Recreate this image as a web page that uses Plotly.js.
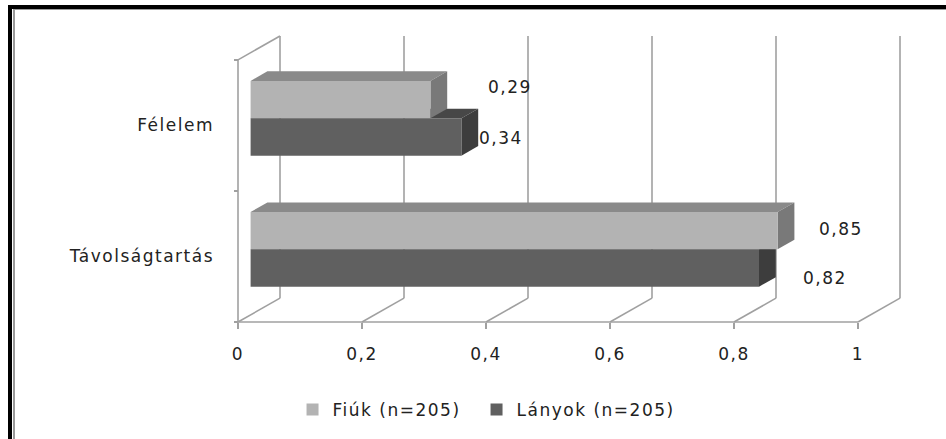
<!DOCTYPE html>
<html>
<head>
<meta charset="utf-8">
<script src="https://cdn.plot.ly/plotly-3.0.1.min.js"></script>
<style>
  html, body { margin: 0; padding: 0; background: #fff; width: 946px; height: 439px; overflow: hidden; }
  #wrap { width: 946px; height: 439px; position: relative; overflow: hidden; }
  #chart { width: 946px; height: 439px; position: absolute; left: 0; top: 0; }
  text { letter-spacing: 1.5px; }
  .frame { position: absolute; pointer-events: none; z-index: 10; }
</style>
</head>
<body>
<div id="wrap">
<div id="chart"></div>
<div class="frame" style="left:930px;top:10px;width:16px;height:429px;background:#fff;z-index:20;"></div>
<div class="frame" style="left:8px;top:5px;width:938px;height:4px;background:#000;"></div>
<div class="frame" style="left:8px;top:5px;width:4px;height:434px;background:#000;"></div>
<div class="frame" style="left:13px;top:9px;width:933px;height:1px;background:#9a9a9a;"></div>
<div class="frame" style="left:13px;top:9px;width:2px;height:430px;background:#9a9a9a;"></div>
</div>
<script>
// ---- data ----
var categories = ['Félelem', 'Távolságtartás'];
var seriesNames = ['Fiúk (n=205)', 'Lányok (n=205)'];
var fiukValues = [0.29, 0.85];
var lanyokValues = [0.34, 0.82];
var tickVals = [0, 0.2, 0.4, 0.6, 0.8, 1];
var tickLabels = ['0', '0,2', '0,4', '0,6', '0,8', '1'];

// ---- style / geometry (not data) ----
var colors = {
  fiuk: {front: '#b3b3b3', top: '#8a8a8a', side: '#797979'},
  lanyok: {front: '#606060', top: '#474747', side: '#3d3d3d'}
};
var gridColor = '#a0a0a0';
var textColor = '#222222';
var FONT = 'DejaVu Sans';
var FSIZE = 17;
var Dx = 42 / 620, Dc = -24 / 131.5;
var FRONT = 0.3, DEPTH = 0.4;
var bargap = 0.4297;
var barW = (1 - bargap) / 2;
var xRange = [-0.2, 1.1];
var cRange = [1.62928, -0.72814];
var labelOffsets = {
  fiuk: [[92, 38], [76, 28]],
  lanyok: [[52, -13], [79, -21]]
};

function fmt(v) { return v.toFixed(2).replace('.', ','); }

var traces = [
  {type: 'bar', orientation: 'h', name: seriesNames[0], x: fiukValues, y: categories,
   xaxis: 'x2', yaxis: 'y2', legend: 'legend', marker: {color: colors.fiuk.front, line: {width: 0}}, hoverinfo: 'x+name'},
  {type: 'bar', orientation: 'h', name: seriesNames[1], x: lanyokValues, y: categories,
   xaxis: 'x2', yaxis: 'y2', legend: 'legend2', marker: {color: colors.lanyok.front, line: {width: 0}}, hoverinfo: 'x+name'}
];

var shapes = [];
function line(x0, y0, x1, y1) {
  shapes.push({type: 'line', xref: 'x', yref: 'y', x0: x0, y0: y0, x1: x1, y1: y1,
    layer: 'below', line: {color: gridColor, width: 1.6}});
}
var cFront = -0.5, cBack = categories.length - 0.5;
tickVals.forEach(function (v) {
  line(v + Dx, cBack + Dc, v + Dx, cFront + Dc);
  line(v, cBack, v + Dx, cBack + Dc);
});
line(0, cBack, 1, cBack);
line(0, cFront, 0, cBack);
line(0, cFront, Dx, cFront + Dc);

function path(pts) {
  return 'M' + pts.map(function (p) { return p[0] + ',' + p[1]; }).join(' L') + ' Z';
}
function faces(values, t, col) {
  values.forEach(function (v, i) {
    var c2Top = i - barW + t * barW;
    var cTop = c2Top + FRONT * Dc, cBot = cTop + barW;
    var x0 = FRONT * Dx, x1 = v + FRONT * Dx;
    var ddx = DEPTH * Dx, ddc = DEPTH * Dc;
    shapes.push({type: 'path', xref: 'x', yref: 'y', layer: 'below', line: {width: 0},
      fillcolor: col.top, path: path([[x0, cTop], [x1, cTop], [x1 + ddx, cTop + ddc], [x0 + ddx, cTop + ddc]])});
    shapes.push({type: 'path', xref: 'x', yref: 'y', layer: 'below', line: {width: 0},
      fillcolor: col.side, path: path([[x1, cTop], [x1, cBot], [x1 + ddx, cBot + ddc], [x1 + ddx, cTop + ddc]])});
  });
}
faces(lanyokValues, 1, colors.lanyok);
faces(fiukValues, 0, colors.fiuk);

var annotations = [];
function labels(values, offs) {
  values.forEach(function (v, i) {
    annotations.push({xref: 'x', yref: 'y', x: v, y: i, text: fmt(v), showarrow: false,
      xanchor: 'center', yanchor: 'middle', xshift: offs[i][0], yshift: offs[i][1],
      font: {family: FONT, size: FSIZE, color: textColor}});
  });
}
labels(fiukValues, labelOffsets.fiuk);
labels(lanyokValues, labelOffsets.lanyok);

var legendFont = {family: FONT, size: FSIZE, color: textColor};
var layout = {
  width: 946, height: 439,
  margin: {l: 114, r: 26, t: 30, b: 99},
  paper_bgcolor: '#ffffff', plot_bgcolor: 'rgba(0,0,0,0)',
  font: {family: FONT, size: FSIZE, color: textColor},
  barmode: 'group', bargap: bargap, bargroupgap: 0,
  showlegend: true,
  legend: {orientation: 'h', x: 0.2215, xanchor: 'left', y: -0.2258, yanchor: 'middle', font: legendFont},
  legend2: {orientation: 'h', x: 0.4498, xanchor: 'left', y: -0.2258, yanchor: 'middle', font: legendFont},
  xaxis: {range: xRange, anchor: 'free', position: (340 - 323) / 310,
    tickmode: 'array', tickvals: tickVals, ticktext: tickLabels,
    ticks: 'outside', ticklen: 6, tickwidth: 1.6, tickcolor: gridColor,
    showgrid: false, zeroline: false, showline: false, ticklabelstandoff: 11},
  yaxis: {range: cRange, anchor: 'free', position: (238 - 114) / 806,
    tickmode: 'array', tickvals: categories.map(function (c, i) { return i; }), ticktext: categories,
    ticks: '', showgrid: false, zeroline: false, showline: false, ticklabelstandoff: 24,
    minor: {tickmode: 'array', tickvals: [cFront, 0.5, cBack], ticks: 'outside', ticklen: 4,
      tickwidth: 1.6, tickcolor: gridColor, showgrid: false}},
  xaxis2: {overlaying: 'x', range: [xRange[0] - FRONT * Dx, xRange[1] - FRONT * Dx], visible: false},
  yaxis2: {overlaying: 'y', type: 'category', categoryorder: 'array', categoryarray: categories,
    range: [cRange[0] - FRONT * Dc, cRange[1] - FRONT * Dc], visible: false},
  shapes: shapes,
  annotations: annotations
};

Plotly.newPlot('chart', traces, layout, {displayModeBar: false, staticPlot: true});
</script>
</body>
</html>
